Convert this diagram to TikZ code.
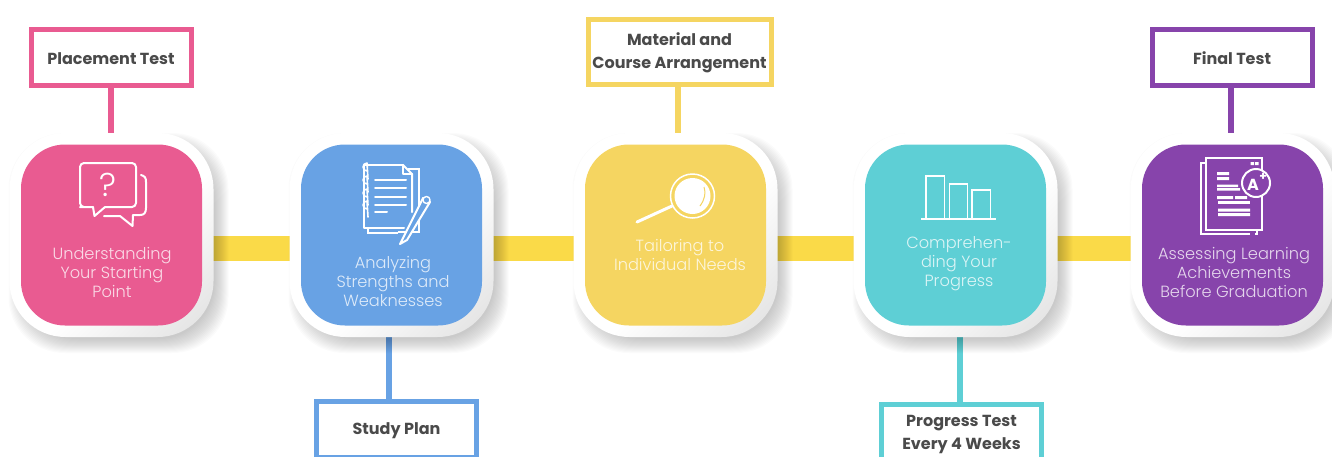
\documentclass[tikz,border=0pt]{standalone}
\usepackage{fontspec}
\setmainfont{Poppins}
\newfontfamily\lightfont{Poppins Light}
\usetikzlibrary{calc}
\pgfdeclarelayer{under}
\pgfsetlayers{under,main}
\definecolor{cpink}{HTML}{E95B91}
\definecolor{cblue}{HTML}{68A2E4}
\definecolor{cyel}{HTML}{F5D561}
\definecolor{cteal}{HTML}{5ECFD5}
\definecolor{cpur}{HTML}{8744AB}
\definecolor{cbar}{HTML}{FADA48}
\definecolor{ctxt}{HTML}{4A4A4A}
\pgfdeclareverticalshading{halograd}{100bp}{color(0bp)=(black!17); color(8bp)=(black!15); color(25bp)=(black!8); color(44bp)=(white); color(100bp)=(white)}
\newcommand{\lowered}[2]{\raisebox{-#1pt}[0pt][0pt]{#2}}
\tikzset{
  halo/.style={rectangle,rounded corners=56pt,minimum size=204pt,inner sep=0pt,outer sep=0pt},
  card/.style={rectangle,rounded corners=44pt,minimum size=181pt,inner sep=0pt,outer sep=0pt,fill=#1},
  tag/.style={rectangle,draw=#1,line width=5pt,fill=white,minimum width=160pt,minimum height=56pt,inner sep=0pt,outer sep=0pt,align=center,text=ctxt,font=\bfseries\fontsize{16}{23}\selectfont},
  stem/.style={draw=#1,line width=6pt},
  barline/.style={draw=cbar,line width=25pt},
  cardtext/.style={text=white,text opacity=.78,align=center,inner sep=0pt,font=\lightfont\fontsize{16.2}{19}\selectfont},
  ico/.style={draw=white,line width=2pt,line join=round,line cap=round},
  icothin/.style={draw=white,line width=1.4pt,line join=miter},
}
\newcommand{\softhalo}[1]{%
  \foreach \k in {-6,...,8}{
    \fill[black,opacity=.016] ($(#1)+(7,8)$) ++({-102-\k},{-102-\k}) [rounded corners=56pt] rectangle ++({204+2*\k},{204+2*\k});
  }
  \shade[shading=halograd,shading angle=45] ($(#1)+(-102,-102)$) [rounded corners=56pt] rectangle ++(204,204);
}
\begin{document}
\begin{tikzpicture}[x=1pt,y=-1pt]
\useasboundingbox (0,0) rectangle (1332,456);
\clip (0,0) rectangle (1332,456);
% halos and cards
\node[halo] (o1) at (111.5,235) {};
\node[halo] (o2) at (391.5,235) {};
\node[halo] (o3) at (675.5,235) {};
\node[halo] (o4) at (955.5,235) {};
\node[halo] (o5) at (1232.5,235) {};
\node[card=cpink] (c1) at (o1) {};
\node[card=cblue] (c2) at (o2) {};
\node[card=cyel] (c3) at (o3) {};
\node[card=cteal] (c4) at (o4) {};
\node[card=cpur] (c5) at (o5) {};
% tags
\node[tag=cpink] (t1) at (111,57) {\lowered{7}{Placement Test}};
\node[tag=cblue] (t2) at (396.5,429) {\lowered{5.5}{Study Plan}};
\node[tag=cyel,minimum width=183pt,minimum height=65pt] (t3) at (679.5,51.5) {\lowered{5.5}{Material and}\\\lowered{5.5}{Course Arrangement}};
\node[tag=cteal,minimum height=58pt] (t4) at (961.5,433) {\lowered{5}{Progress Test}\\\lowered{5}{Every 4 Weeks}};
\node[tag=cpur] (t5) at (1232,57) {\lowered{7}{Final Test}};
% card texts
\node[cardtext] (x1) at (112,272) {Understanding\\Your Starting\\Point};
\node[cardtext] (x2) at (393,281) {Analyzing\\Strengths and\\Weaknesses};
\node[cardtext] (x3) at (680,254.5) {Tailoring to\\Individual Needs};
\node[cardtext] (x4) at (959,263.5) {Comprehen-\\ding Your\\Progress};
\node[cardtext] (x5) at (1234,272.5) {Assessing Learning\\Achievements\\Before Graduation};
% underlay
\begin{pgfonlayer}{under}
\draw[stem=cpink] (t1.south) -- (t1.south |- o1.north);
\draw[stem=cblue] (o2.south -| 389,0) -- (t2.north -| 389,0);
\draw[stem=cyel] (t3.south -| 678,0) -- (o3.north -| 678,0);
\draw[stem=cteal] (o4.south -| 960,0) -- (t4.north -| 960,0);
\draw[stem=cpur] (t5.south -| 1231,0) -- (o5.north -| 1231,0);
\draw[barline] ([yshift=-13.5pt]o1.center) -- ([yshift=-13.5pt]o2.center);
\draw[barline] ([yshift=-13.5pt]o2.center) -- ([yshift=-13.5pt]o3.center);
\draw[barline] ([yshift=-13.5pt]o3.center) -- ([yshift=-13.5pt]o4.center);
\draw[barline] ([yshift=-13.5pt]o4.center) -- ([yshift=-13.5pt]o5.center);
\softhalo{o1}\softhalo{o2}\softhalo{o3}\softhalo{o4}\softhalo{o5}
\end{pgfonlayer}
% icon 1: speech bubbles
\draw[ico,rounded corners=4pt] (93,207) -- (84,207) -- (80,207) -- (80,163) -- (136,163) -- (136,207) -- (105,207);
\draw[ico] (93,207) -- (94.5,216) -- (105,207);
\draw[ico] (141,175) .. controls (145,176) and (146,178) .. (146,182) -- (146,208) .. controls (146,213) and (144,215) .. (140,215) -- (133,215) -- (132.5,226) -- (120,216) -- (104,216);
\node[text=white,font=\fontsize{33}{33}\selectfont\lightfont,inner sep=0pt] (q) at (108,185) {?};
% icon 2: notebook
\draw[icothin] (398,232) -- (419,232) -- (419,169) -- (408,169);
\draw[icothin] (368,228) -- (368,233) -- (398,233);
\draw[ico] (403,165) -- (364,165) -- (364,228) -- (404,228);
\draw[ico] (403,165) -- (412,174) -- (412,212);
\draw[ico] (403,165) -- (403,174) -- (412,174);
\foreach \yy in {175,188,201,213}{\draw[ico,line width=1.6pt] (367,\yy-4) arc (90:270:4) -- (368,\yy+4);}
\foreach \yy in {180,188,197,205}{\draw[ico] (375,\yy) -- (406,\yy);}
\draw[ico] (375,212) -- (387,212);
\draw[ico,fill=cblue] (400,244) -- (423,198) -- (430,202) -- (407,240) -- cycle;
\draw[ico,line width=1.4pt,fill=cblue] (426.5,200) circle (3.5);
% icon 3: magnifier
\draw[ico,line width=1.5pt] (692.5,196) circle (22);
\fill[white] (692.5,196) circle (18);
\draw[cyel,line width=1pt] (704,187) .. controls (706,193) and (705,199) .. (700,206);
\draw[ico,line width=3pt] (637,222) -- (672,206);
% icon 4: bars
\draw[icothin,line width=1.6pt] (926,219) -- (926,176) -- (944.5,176) -- (944.5,219);
\draw[icothin,line width=1.6pt] (949.5,219) -- (949.5,184) -- (967.5,184) -- (967.5,219);
\draw[icothin,line width=1.6pt] (972,219) -- (972,190) -- (990.5,190) -- (990.5,219);
\draw[icothin,line width=1.6pt] (921,219) -- (996,219);
% icon 5: graded document
\draw[icothin,line width=1.6pt] (1206,163) -- (1201,163) -- (1201,234) -- (1250,234);
\draw[icothin,line width=1.6pt] (1255,234) -- (1257,234) -- (1257,230);
\draw[icothin,line width=1.6pt] (1206,158) rectangle (1262,230);
\draw[icothin,line width=2pt,fill=cpur] (1256,183) circle (14);
\node[text=white,font=\bfseries\fontsize{16}{16}\selectfont,inner sep=0pt] (a) at (1253,185) {A};
\node[text=white,font=\bfseries\fontsize{12}{12}\selectfont,inner sep=0pt] (plus) at (1263,177) {+};
\fill[white] (1217,172) rectangle (1229,175) (1217,177) rectangle (1229,180);
\fill[white] (1217,184.5) rectangle (1238,187) (1217,188) rectangle (1240,190.5);
\fill[white] (1217,196) rectangle (1233,199) (1235,196) rectangle (1247,199);
\fill[white] (1218,201) rectangle (1250,204);
\fill[white] (1218,208.5) rectangle (1250,211.5) (1218,213) rectangle (1250,216);
\fill[white] (1250.5,162) rectangle (1254,165) (1255,162) rectangle (1258.5,165);
\end{tikzpicture}
\end{document}
